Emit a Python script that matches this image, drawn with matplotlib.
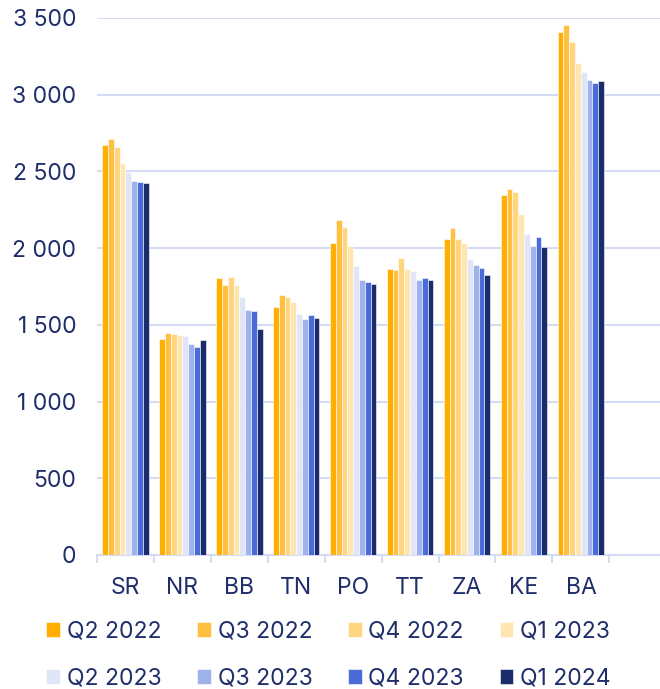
import numpy as np
import matplotlib
matplotlib.use("Agg")
import matplotlib.pyplot as plt

regions = ["SR", "NR", "BB", "TN", "PO", "TT", "ZA", "KE", "BA"]
quarters = ["Q2 2022", "Q3 2022", "Q4 2022", "Q1 2023",
            "Q2 2023", "Q3 2023", "Q4 2023", "Q1 2024"]

q2_2022 = [2670, 1406, 1803, 1616, 2034, 1862, 2060, 2346, 3405]
q3_2022 = [2714, 1446, 1762, 1694, 2186, 1856, 2132, 2382, 3452]
q4_2022 = [2661, 1441, 1814, 1681, 2139, 1936, 2058, 2363, 3341]
q1_2023 = [2555, 1433, 1760, 1650, 2012, 1864, 2032, 2219, 3204]
q2_2023 = [2494, 1426, 1683, 1568, 1882, 1849, 1931, 2093, 3145]
q3_2023 = [2435, 1372, 1594, 1537, 1790, 1792, 1888, 2012, 3097]
q4_2023 = [2431, 1354, 1588, 1563, 1781, 1803, 1871, 2073, 3075]
q1_2024 = [2422, 1404, 1470, 1546, 1764, 1790, 1825, 2008, 3086]

series = [q2_2022, q3_2022, q4_2022, q1_2023, q2_2023, q3_2023, q4_2023, q1_2024]
colors = ["#FFAF00", "#FFC042", "#FFD57F", "#FFE5B0",
          "#E0E6F8", "#A0B2EC", "#4A6CD8", "#1A2C6B"]

text_col = "#1F2D6B"
grid_col = "#D3DBF5"
fs = 16.5

plt.rcParams['font.family'] = ['Inter', 'DejaVu Sans']

fig = plt.figure(figsize=(6.6, 6.89), dpi=100)
ax = fig.add_axes([0.147, 0.1945, 0.853, 0.7795])

x = np.arange(len(regions))
bw = 0.102
for i, (vals, c) in enumerate(zip(series, colors)):
    off = (i - 3.5) * bw
    ax.bar(x + off, vals, width=bw, color=c, label=quarters[i],
           edgecolor="white", linewidth=0.4, zorder=3)

ax.set_ylim(0, 3500)
ax.set_xlim(-0.5, 9.39)
ax.set_yticks(np.arange(0, 3501, 500))
ax.set_yticklabels([f"{v:,}".replace(",", " ") for v in range(0, 3501, 500)])
ax.yaxis.grid(True, color=grid_col, linewidth=1.5, zorder=0)
ax.tick_params(axis="y", length=0, pad=15, labelsize=fs, labelcolor=text_col)

ax.set_xticks(np.arange(-0.5, 9.0, 1.0))
ax.set_xticklabels([])
ax.set_xticks(x, minor=True)
ax.set_xticklabels(regions, minor=True)
ax.tick_params(axis="x", which="major", length=6, width=1.5, color=grid_col)
ax.tick_params(axis="x", which="minor", length=0, pad=16, labelsize=fs,
               labelcolor=text_col)

for s in ["top", "right", "left"]:
    ax.spines[s].set_visible(False)
ax.spines["bottom"].set_color(grid_col)
ax.spines["bottom"].set_linewidth(1.5)

# legend filled row by row
handles, labels = ax.get_legend_handles_labels()
order = [0, 4, 1, 5, 2, 6, 3, 7]
leg = fig.legend([handles[k] for k in order], [labels[k] for k in order],
                 loc="upper left", bbox_to_anchor=(0.07, 0.099), ncol=4,
                 frameon=False, fontsize=fs, handlelength=0.6,
                 handleheight=0.6, handletextpad=0.3, columnspacing=1.55,
                 labelspacing=1.08, borderaxespad=0, borderpad=0)
for t in leg.get_texts():
    t.set_color(text_col)

fig.savefig("out.png", dpi=100)
